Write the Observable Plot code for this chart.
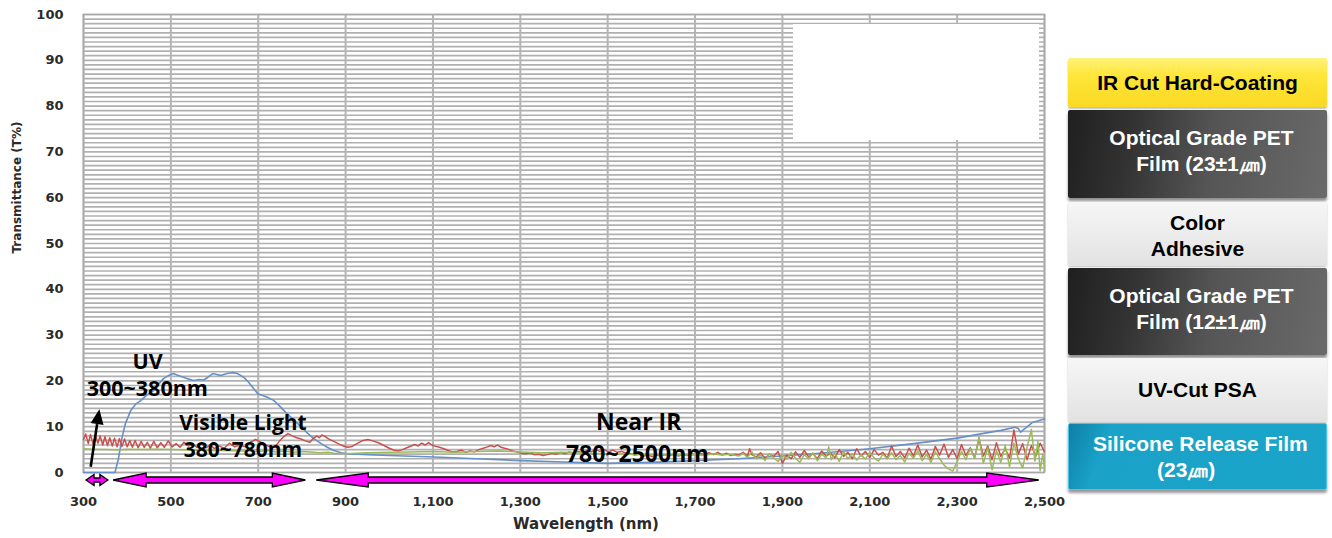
<!DOCTYPE html>
<html>
<head>
<meta charset="utf-8">
<script src="https://cdn.jsdelivr.net/npm/d3@7"></script>
<script src="https://cdn.jsdelivr.net/npm/@observablehq/plot@0.6"></script>
<style>
  html, body { margin: 0; padding: 0; background: #fff; }
  #wrap { position: relative; width: 1332px; height: 538px; overflow: hidden; }
  #chart { position: absolute; left: 0; top: 0; }
  #blank { position: absolute; left: 793px; top: 24px; width: 246px; height: 116px; background: #fff; }
  .box { position: absolute; left: 1068px; width: 259px; box-sizing: border-box; border-radius: 2px;
         font-family: "Liberation Sans", Arial, sans-serif; font-weight: bold; font-size: 21px;
         display: flex; flex-direction: column; justify-content: center; align-items: center; line-height: 26px; }
  .yellow { background: linear-gradient(to bottom, #fff27a 0%, #ffe63a 35%, #f9d923 100%); color: #000;
            box-shadow: 0 2px 2px rgba(0,0,0,0.25); }
  .dark { background: linear-gradient(100deg, #1f1f1f 0%, #333 25%, #555 55%, #6a6a6a 100%); color: #fff;
          box-shadow: 0 3px 3px rgba(0,0,0,0.45); padding-left: 8px; padding-bottom: 6px; }
  .light { background: linear-gradient(to bottom, #f6f6f6 0%, #ececec 50%, #e2e2e2 100%); color: #000;
           box-shadow: 0 1px 2px rgba(0,0,0,0.25); }
  .blue { background: linear-gradient(110deg, #0d7fa6 0%, #1aa2c8 15%, #1ba4c9 100%); color: #fff;
          box-shadow: 0 3px 3px rgba(0,0,0,0.4); border: 1px solid #4fc3e6; }
</style>
</head>
<body>
<div id="wrap">
  <div id="chart"></div>
  <div id="blank"></div>
  <div class="box yellow" style="top:58px;height:49px;">IR Cut Hard-Coating</div>
  <div class="box dark" style="top:110px;height:88px;"><div>Optical Grade PET</div><div>Film (23±1㎛)</div></div>
  <div class="box light" style="top:202px;height:64px;padding-top:4px;"><div>Color</div><div>Adhesive</div></div>
  <div class="box dark" style="top:268px;height:87px;"><div>Optical Grade PET</div><div>Film (12±1㎛)</div></div>
  <div class="box light" style="top:358px;height:64px;">UV-Cut PSA</div>
  <div class="box blue" style="top:423px;height:67px;align-items:stretch;">
    <div style="padding-left:24px;text-align:left;">Silicone Release Film</div>
    <div style="padding-left:88px;text-align:left;">(23㎛)</div>
  </div>
</div>
<script>
// ---- data ----
const xTicks = [300, 500, 700, 900, 1100, 1300, 1500, 1700, 1900, 2100, 2300, 2500];
const yTicks = [0, 10, 20, 30, 40, 50, 60, 70, 80, 90, 100];

// blue series [nm, T%]
const blueSeries = [[300,0],[372,0],[380,3],[388,7.5],[396,10.7],[408,13.5],[420,15],[431,15.7],[446,17],[461,17.9],
 [472,19.3],[483,20.5],[495,21.2],[506,21.6],[514,21.3],[522,21],[537,20.5],[552,20.1],[565,20.3],[575,20.2],
 [585,20.8],[596,21.6],[605,21.4],[614,21.2],[628,21.6],[642,21.8],[652,21.6],[660,21.2],[670,20.5],[678,19.7],
 [688,18.5],[699,17.2],[710,16.8],[722,16.4],[736,15.7],[748,14.6],[759,13.5],[770,12.5],[782,11.4],[798,10],
 [814,8.5],[829,7.3],[844,6.3],[858,5.5],[873,4.8],[890,4.3],[905,4.1],[950,3.9],[1000,3.7],[1103,3.4],
 [1200,3.0],[1300,2.6],[1400,2.3],[1500,2.0],[1600,2.2],[1700,2.6],[1800,3.0],[1900,3.6],[2000,4.3],[2100,5.2],
 [2200,6.3],[2300,7.5],[2364,8.6],[2400,9.2],[2433,9.9],[2440,9.6],[2445,8.8],[2455,9.6],[2472,10.9],[2490,11.4],[2500,11.7]];

// red series [nm, T%]
const redSeries = [[300,7.2],[305,8.4],[311,6.3],[316,8.3],[322,6.2],[327,8.2],[333,6.4],[338,8.0],[344,6.0],[349,7.8],
 [355,5.9],[360,7.6],[366,5.8],[371,7.5],[377,5.6],[382,7.4],[388,5.7],[394,7.3],[400,5.6],[406,7.0],[412,5.5],[418,7.0],
 [425,5.4],[432,6.8],[439,5.5],[446,6.6],[453,5.3],[461,6.8],[469,5.4],[477,6.5],[485,5.5],[494,6.9],[503,5.6],[512,6.3],
 [521,5.5],[530,6.6],[540,5.8],[550,6.2],[560,5.5],[570,6.3],[580,5.4],[590,6.0],[600,5.2],[610,5.8],[622,5.3],[634,6.4],
 [646,5.6],[658,6.0],[670,5.6],[682,6.6],[694,7.2],[706,6.6],[718,6.0],[728,5.5],[738,5.6],[748,6.8],[758,7.8],[768,8.5],
 [778,8.0],[788,7.6],[798,7.3],[808,6.9],[818,6.6],[826,7.4],[834,8.0],[840,7.6],[846,8.2],[854,7.8],[862,7.3],[873,6.8],
 [885,6.2],[895,5.8],[905,5.5],[915,5.7],[928,6.4],[940,7.0],[951,7.2],[962,6.9],[975,6.5],[988,5.9],[1000,5.3],[1010,4.9],
 [1020,4.7],[1030,5.0],[1040,5.4],[1050,5.8],[1058,6.1],[1066,5.8],[1074,6.4],[1082,6.0],[1090,6.5],[1098,6.0],[1106,5.7],
 [1115,5.5],[1125,5.2],[1135,4.8],[1145,4.5],[1155,4.6],[1165,4.9],[1175,4.4],[1185,4.7],[1195,4.5],[1205,5.0],[1215,5.3],
 [1225,5.6],[1232,5.9],[1240,5.6],[1248,6.0],[1256,5.5],[1264,5.3],[1272,5.1],[1282,4.7],[1292,4.5],[1302,4.2],[1312,4.1],
 [1322,4.3],[1332,3.9],[1342,4.0],[1352,3.7],[1362,3.9],[1372,4.2],[1382,4.0],[1392,4.4],[1402,4.1],[1412,4.5],[1422,4.2],
 [1432,4.6],[1442,4.3],[1452,4.8],[1462,4.5],[1472,5.0],[1482,4.6],[1492,5.0],[1502,4.5],[1512,4.9],[1522,4.4],[1532,4.6],
 [1542,4.2],[1552,4.1],[1562,3.8],[1572,4.0],[1582,3.6],[1592,3.8],[1602,3.5],[1612,3.8],[1622,3.6],[1632,3.9],[1642,3.7],
 [1652,4.0],[1662,3.6],[1672,3.9],[1682,3.7],[1692,4.1],[1702,3.8],[1712,4.2],[1722,3.9],[1732,4.3],[1742,3.9],[1752,4.4],
 [1762,3.8],[1772,4.2],[1782,3.7],[1792,4.0],[1800,3.8],[1810,4.4],[1820,3.6],[1825,5.2],[1830,3.9],[1840,3.4],[1850,4.3],
 [1860,3.1],[1870,4.0],[1880,3.5],[1890,4.6],[1900,2.0],[1910,3.8],[1920,3.0],[1930,4.5],[1940,3.3],[1950,4.8],[1960,3.4],
 [1970,4.1],[1980,3.0],[1990,4.7],[2000,3.6],[2010,4.2],[2020,3.2],[2030,5.0],[2040,3.5],[2050,4.4],[2060,3.0],[2070,5.2],
 [2080,3.6],[2090,4.6],[2100,3.3],[2110,5.0],[2120,3.8],[2130,4.4],[2140,3.1],[2150,5.8],[2160,3.5],[2170,4.6],[2180,3.2],
 [2190,5.3],[2200,3.6],[2210,6.0],[2220,3.4],[2230,4.9],[2240,2.9],[2250,5.7],[2260,3.8],[2270,6.2],[2280,3.3],[2290,5.0],
 [2300,3.0],[2310,6.1],[2320,3.7],[2330,5.4],[2340,3.2],[2350,7.4],[2360,3.6],[2370,5.8],[2380,2.8],[2390,6.5],[2400,3.5],
 [2410,5.2],[2420,3.1],[2430,9.3],[2440,4.0],[2450,6.3],[2460,2.8],[2470,5.9],[2480,3.6],[2490,6.4],[2500,4.5]];

// green series [nm, T%]
const greenSeries = [[300,5.2],[320,5.1],[350,5.0],[380,4.9],[400,5.1],[430,5.0],[460,5.1],[500,5.0],[540,4.9],[580,4.8],
 [620,4.8],[660,4.7],[700,4.6],[720,4.8],[740,4.5],[760,4.7],[780,4.4],[800,4.6],[820,4.5],[840,4.3],[860,4.4],[873,4.2],
 [900,4.1],[950,4.3],[1000,4.4],[1050,4.5],[1100,4.6],[1150,4.4],[1200,4.6],[1250,4.7],[1300,4.5],[1350,4.3],[1400,4.4],
 [1450,4.2],[1500,4.1],[1550,4.0],[1600,3.9],[1650,3.8],[1700,3.9],[1720,3.7],[1740,4.1],[1760,3.8],[1780,4.0],
 [1800,3.6],[1810,4.2],[1820,3.3],[1830,4.5],[1840,3.0],[1850,3.9],[1860,2.6],[1870,4.1],[1880,3.2],[1890,2.4],[1900,3.8],
 [1910,2.9],[1920,4.4],[1930,3.1],[1940,2.2],[1950,3.9],[1960,3.0],[1970,4.3],[1980,2.6],[1990,4.0],[2000,3.2],[2006,5.6],
 [2012,2.8],[2020,4.2],[2030,2.4],[2040,4.6],[2050,3.0],[2060,4.1],[2070,2.7],[2080,3.9],[2090,2.9],[2100,4.4],[2110,3.2],
 [2120,2.5],[2130,4.0],[2140,3.0],[2150,4.3],[2160,2.8],[2170,3.7],[2180,2.3],[2190,4.2],[2200,3.1],[2210,4.7],[2220,2.6],
 [2230,3.9],[2240,2.2],[2250,4.5],[2260,3.0],[2270,1.6],[2280,0.8],[2290,0.3],[2300,2.4],[2310,4.6],[2320,2.8],[2330,5.2],
 [2340,3.1],[2350,7.8],[2360,2.0],[2370,5.4],[2380,0.6],[2390,4.8],[2400,2.2],[2410,5.9],[2420,1.3],[2430,6.4],[2440,3.0],
 [2450,1.0],[2460,5.5],[2470,9.4],[2478,2.5],[2485,6.8],[2490,0.4],[2496,4.0],[2500,1.2]];

// annotations [nm, T%, text]
const uvLabels = [[447, 24.2, "UV"], [446, 18.3, "300~380nm"]];
const visLabels = [[665, 10.7, "Visible Light"], [665, 4.8, "380~780nm"]];
const nirLabels = [[1571, 10.9, "Near IR"], [1568, 3.9, "780~2500nm"]];
const uvArrow = [[317.6, 1.16, 337.4, 13.7]];   // tail nm, tail T, tip nm, tip T
const bands = [[307, 357], [369, 809], [834, 2488]];  // drawn wavelength extents of the range arrows

// ---- styles ----
const headLens = [8, 33, 52];

function rangeArrows(index, scales, values, dimensions) {
  const g = d3.create("svg:g");
  const yc = dimensions.height - dimensions.marginBottom + 8;
  bands.forEach((b, i) => {
    const x1 = scales.x(b[0]), x2 = scales.x(b[1]);
    const hl = headLens[i], hh = i === 0 ? 5.5 : 7, sh = i === 0 ? 2 : 3;
    const pts = [[x1,yc],[x1+hl,yc-hh],[x1+hl,yc-sh],[x2-hl,yc-sh],[x2-hl,yc-hh],[x2,yc],
                 [x2-hl,yc+hh],[x2-hl,yc+sh],[x1+hl,yc+sh],[x1+hl,yc+hh]];
    g.append("path").attr("d", "M" + pts.map(p => p.join(",")).join("L") + "Z")
      .attr("fill", "#ff00ff").attr("stroke", "#000").attr("stroke-width", 1.3)
      .attr("stroke-linejoin", "miter");
  });
  return g.node();
}

function blackArrow(index, scales) {
  const g = d3.create("svg:g");
  uvArrow.forEach(a => {
    const x1 = scales.x(a[0]), y1 = scales.y(a[1]), x2 = scales.x(a[2]), y2 = scales.y(a[3]);
    const ang = Math.atan2(y2 - y1, x2 - x1);
    const L = 15, W = 6.5;
    const bx = x2 - L * Math.cos(ang), by = y2 - L * Math.sin(ang);
    const px = -Math.sin(ang) * W, py = Math.cos(ang) * W;
    g.append("line").attr("x1", x1).attr("y1", y1).attr("x2", bx).attr("y2", by)
      .attr("stroke", "#000").attr("stroke-width", 2.6);
    g.append("path").attr("d", `M${x2},${y2}L${bx+px},${by+py}L${bx-px},${by-py}Z`).attr("fill", "#000");
  });
  return g.node();
}

const labelFont = "'Open Sans', 'Liberation Sans', sans-serif";

const chart = Plot.plot({
  width: 1066,
  height: 538,
  marginLeft: 83,
  marginRight: 22,
  marginTop: 14,
  marginBottom: 66,
  x: {domain: [300, 2500]},
  y: {domain: [0, 100]},
  style: {fontFamily: "'DejaVu Sans', sans-serif", background: "transparent", overflow: "visible"},
  marks: [
    Plot.gridY({interval: 1, stroke: "#b0b0b0", strokeOpacity: 1, strokeWidth: 1.7}),
    Plot.gridX({ticks: xTicks, stroke: "#b5b5b5", strokeOpacity: 1, strokeWidth: 2}),
    Plot.frame({stroke: "#a8a8a8", strokeWidth: 1.5}),
    Plot.axisY({ticks: yTicks, tickSize: 0, tickPadding: 20, fontSize: 13, fontWeight: "bold", color: "#2a2a2a", label: null}),
    Plot.axisX({ticks: xTicks, tickSize: 0, tickPadding: 24, tickFormat: d3.format(","), fontSize: 13, fontWeight: "bold", color: "#2a2a2a", label: null}),
    Plot.text(["Wavelength (nm)"], {frameAnchor: "bottom", dy: 56, dx: 22, fontSize: 15, fontWeight: "bold", fill: "#2a2a2a"}),
    Plot.text(["Transmittance (T%)"], {frameAnchor: "left", rotate: -90, dx: -66, dy: 10, fontSize: 12, fontWeight: "bold", fill: "#2a2a2a"}),
    Plot.line(blueSeries, {x: d => d[0], y: d => d[1], stroke: "#6690c8", strokeWidth: 1.6}),
    Plot.line(redSeries, {x: d => d[0], y: d => d[1], stroke: "#c9504d", strokeWidth: 1.5}),
    Plot.line(greenSeries, {x: d => d[0], y: d => d[1], stroke: "#9bbb59", strokeWidth: 1.5}),
    Plot.text(uvLabels, {x: d => d[0], y: d => d[1], text: d => d[2], fontSize: 21.5, fontWeight: "bold", fontFamily: labelFont, fill: "#000"}),
    Plot.text(visLabels, {x: d => d[0], y: d => d[1], text: d => d[2], fontSize: 21, fontWeight: "bold", fontFamily: labelFont, fill: "#000"}),
    Plot.text(nirLabels, {x: d => d[0], y: d => d[1], text: d => d[2], fontSize: 23, fontWeight: "bold", fontFamily: labelFont, fill: "#000"}),
    blackArrow,
    rangeArrows
  ]
});
document.getElementById("chart").appendChild(chart);
</script>
</body>
</html>
